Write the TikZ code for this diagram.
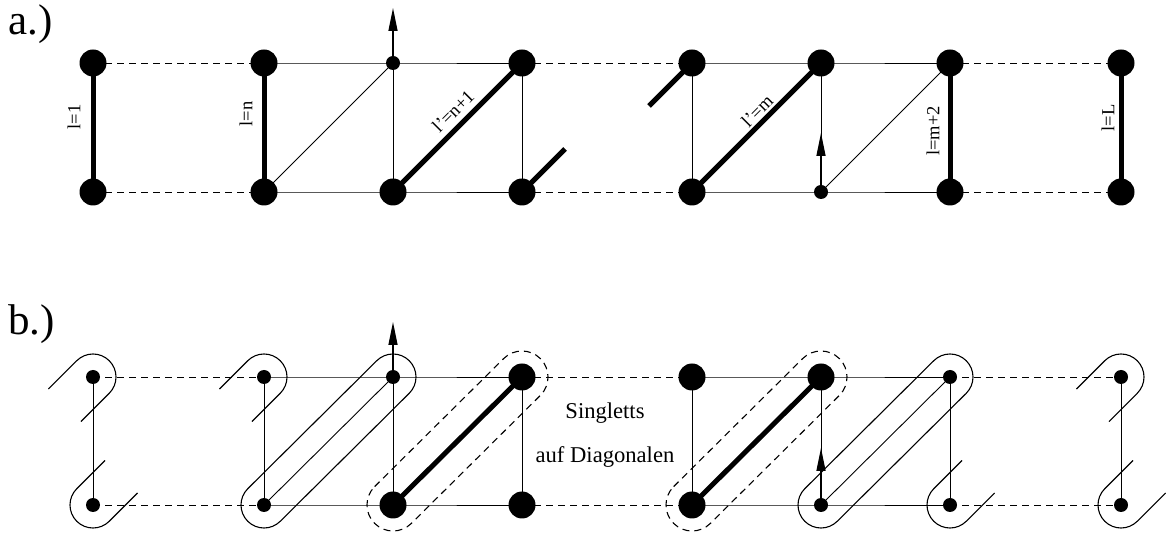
\documentclass[tikz,border=0pt]{standalone}
\usepackage{fontspec}
\setmainfont{Liberation Serif}
\usetikzlibrary{arrows.meta,calc,backgrounds}
% capsule around a pair of sites joined by a diagonal (from #2 lower left to #3 upper right)
\newcommand{\pairloop}[4][ring]{%
  \draw[#1] ($(#2)+(135:#4)$) -- ($(#3)+(135:#4)$)
    arc[start angle=135,end angle=-45,radius=#4]
    -- ($(#2)+(-45:#4)$)
    arc[start angle=-45,end angle=-225,radius=#4] -- cycle;}
% open loop ending at an upper site (continues towards lower left)
\newcommand{\tophook}[1]{%
  \draw[ring] ($(#1)+(135:23pt)+(225:40pt)$) -- ($(#1)+(135:23pt)$)
    arc[start angle=135,end angle=-45,radius=23pt] -- ++(225:40pt);}
% open loop ending at a lower site (continues towards upper right)
\newcommand{\bothook}[1]{%
  \draw[ring] ($(#1)+(-45:23pt)+(45:40pt)$) -- ($(#1)+(-45:23pt)$)
    arc[start angle=-45,end angle=-225,radius=23pt] -- ++(45:40pt);}
\begin{document}
\begin{tikzpicture}[x=1pt,y=1pt,
  big/.style={circle,fill=black,inner sep=0pt,minimum size=27pt},
  small/.style={circle,fill=black,inner sep=0pt,minimum size=14pt},
  link/.style={line width=0.9pt},
  openlink/.style={line width=0.9pt,dash pattern=on 7pt off 5pt},
  bondline/.style={line width=5pt},
  ring/.style={line width=1.1pt},
  dashring/.style={line width=1.1pt,dash pattern=on 7pt off 5pt},
  flipper/.style={line width=1.4pt,-{Triangle[length=23pt,width=9pt]}},
  lab/.style={inner sep=0pt,font=\fontsize{18.5}{20}\selectfont},
  panel/.style={inner sep=0pt,anchor=base west,font=\fontsize{43}{45}\selectfont},
  note/.style={inner sep=0pt,anchor=base,font=\fontsize{22.6}{24}\selectfont}]
\useasboundingbox (0,0) rectangle (1171,533);

% panel titles
\node[panel] (ta) at (8,498) {a.)};
\node[panel] (tb) at (8,198) {b.)};

% ---------- panel a: sites ----------
\node[big]   (a1t) at (93,470)  {};  \node[big]   (a1b) at (93,341)  {};
\node[big]   (a2t) at (264,470) {};  \node[big]   (a2b) at (264,341) {};
\node[small] (a3t) at (393,470) {};  \node[big]   (a3b) at (393,341) {};
\node[big]   (a4t) at (522,470) {};  \node[big]   (a4b) at (522,341) {};
\node[big]   (a5t) at (692,470) {};  \node[big]   (a5b) at (692,341) {};
\node[big]   (a6t) at (821,470) {};  \node[small] (a6b) at (821,341) {};
\node[big]   (a7t) at (950,470) {};  \node[big]   (a7b) at (950,341) {};
\node[big]   (a8t) at (1121,470) {}; \node[big]   (a8b) at (1121,341) {};

% ---------- panel b: sites ----------
\node[small] (b1t) at (93,156)  {};  \node[small] (b1b) at (93,28)  {};
\node[small] (b2t) at (264,156) {};  \node[small] (b2b) at (264,28) {};
\node[small] (b3t) at (393,156) {};  \node[big]   (b3b) at (393,28) {};
\node[big]   (b4t) at (522,156) {};  \node[big]   (b4b) at (522,28) {};
\node[big]   (b5t) at (692,156) {};  \node[big]   (b5b) at (692,28) {};
\node[big]   (b6t) at (821,156) {};  \node[small] (b6b) at (821,28) {};
\node[small] (b7t) at (950,156) {};  \node[small] (b7b) at (950,28) {};
\node[small] (b8t) at (1121,156) {}; \node[small] (b8b) at (1121,28) {};

% free ends of arrows and cut bonds
\coordinate (a3up) at (393,525);
\coordinate (a6up) at (821,400);
\coordinate (b3up) at (393,211);
\coordinate (b6up) at (821,85);
\coordinate (a4cut) at (565,384);
\coordinate (a5cut) at (649,427);

\begin{scope}[on background layer]
  % legs of both ladders
  \foreach \p in {a,b}{
    \foreach \r in {t,b}{
      \draw[openlink] (\p1\r.center) -- (\p2\r.center);
      \draw[link] (\p2\r.center) -- (\p3\r.center) -- (\p4\r.center);
      \draw[openlink] (\p4\r.center) -- (\p5\r.center);
      \draw[link] (\p5\r.center) -- (\p6\r.center) -- (\p7\r.center);
      \draw[openlink] (\p7\r.center) -- (\p8\r.center);
    }
    \draw[link] (\p2b.center) -- (\p3t.center);
    \draw[link] (\p6b.center) -- (\p7t.center);
    \draw[bondline] (\p3b.center) -- (\p4t.center);
    \draw[bondline] (\p5b.center) -- (\p6t.center);
  }
  % rungs, panel a
  \foreach \c in {1,2,7,8}{\draw[bondline] (a\c t.center) -- (a\c b.center);}
  \foreach \c in {3,4,5,6}{\draw[link] (a\c t.center) -- (a\c b.center);}
  % rungs, panel b
  \foreach \c in {1,...,8}{\draw[link] (b\c t.center) -- (b\c b.center);}
  % cut singlets
  \draw[bondline] (a4b.center) -- (a4cut);
  \draw[bondline] (a5t.center) -- (a5cut);
\end{scope}

% spin flips
\draw[flipper] (a3t) -- (a3up);
\draw[flipper] (a6b) -- (a6up);
\draw[flipper] (b3t) -- (b3up);
\draw[flipper] (b6b) -- (b6up);

% bond labels
\node[lab,rotate=90] (l1)   at (74,416)  {l=1};
\node[lab,rotate=90] (ln)   at (246,419) {l=n};
\node[lab,rotate=45] (ln1)  at (453,422) {l'=n+1};
\node[lab,rotate=45] (lm)   at (757,422) {l'=m};
\node[lab,rotate=90] (lm2)  at (933,402) {l=m+2};
\node[lab,rotate=90] (lL)   at (1108,415) {l=L};

% panel b: singlet loops
\tophook{b1t} \bothook{b1b}
\tophook{b2t}
\pairloop{b2b}{b3t}{23pt}
\pairloop[dashring]{b3b}{b4t}{26pt}
\pairloop[dashring]{b5b}{b6t}{26pt}
\pairloop{b6b}{b7t}{23pt}
\bothook{b7b}
\tophook{b8t} \bothook{b8b}

\node[note] (s1) at (605,114) {Singletts};
\node[note] (s2) at (605,70) {auf Diagonalen};
\end{tikzpicture}
\end{document}
